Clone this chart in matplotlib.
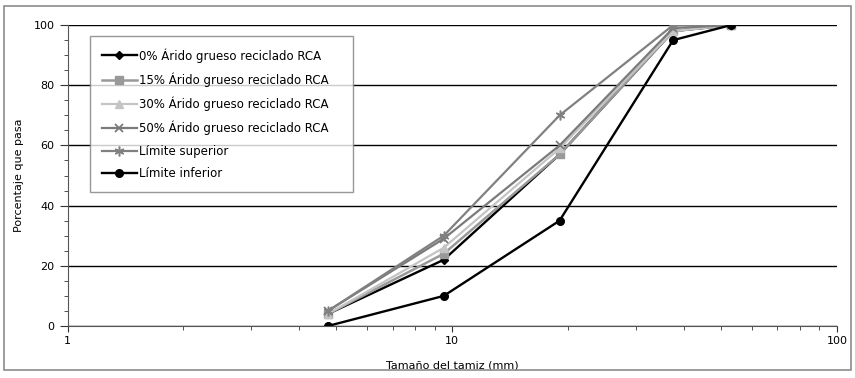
import matplotlib.pyplot as plt
from matplotlib.patches import Rectangle
from matplotlib.ticker import FixedLocator, NullFormatter

# Sieve sizes (mm) and percent passing for each mix and the grading limits
sieves = [4.75, 9.5, 19, 37.5, 53]
rca_0 = [4, 22, 57, 98, 100]
rca_15 = [4, 24, 57, 98, 100]
rca_30 = [4, 26, 59, 98, 100]
rca_50 = [5, 29, 60, 99, 100]
lim_sup = [5, 30, 70, 100, 100]
lim_inf = [0, 10, 35, 95, 100]

labels = [
    "0% Árido grueso reciclado RCA",
    "15% Árido grueso reciclado RCA",
    "30% Árido grueso reciclado RCA",
    "50% Árido grueso reciclado RCA",
    "Límite superior",
    "Límite inferior",
]

plt.rcParams["font.family"] = ["DejaVu Sans"]

fig = plt.figure(figsize=(8.55, 3.78), dpi=100)
ax = fig.add_axes([0.079, 0.1376, 0.9, 0.796])

# outer chart border
fig.patches.append(Rectangle((0.005, 0.02), 0.99, 0.965, transform=fig.transFigure,
                             fill=False, edgecolor="#8c8c8c", lw=1.2))

ax.plot(sieves, rca_0, color="black", lw=1.7, marker="D", ms=4.5, label=labels[0])
ax.plot(sieves, rca_15, color="#999999", lw=1.8, marker="s", ms=6, label=labels[1])
ax.plot(sieves, rca_30, color="#c4c4c4", lw=1.6, marker="^", ms=6, label=labels[2])
ax.plot(sieves, rca_50, color="#7a7a7a", lw=1.6, marker="x", ms=6, mew=1.3,
        label=labels[3])
ax.plot(sieves, lim_sup, color="#808080", lw=1.6, marker=(6, 2, 0), ms=7, mew=1.1,
        label=labels[4])
ax.plot(sieves, lim_inf, color="black", lw=1.7, marker="o", ms=5.5, label=labels[5])

ax.set_xscale("log")
ax.set_xlim(1, 100)
ax.set_ylim(0, 100)
ax.set_yticks([0, 20, 40, 60, 80, 100])
ax.yaxis.set_minor_locator(FixedLocator(range(0, 101, 5)))
ax.set_xticks([1, 10, 100])
ax.set_xticklabels(["1", "10", "100"])
ax.xaxis.set_minor_formatter(NullFormatter())

ax.grid(axis="y", which="major", color="black", lw=1.0)
ax.set_axisbelow(True)
for side in ["top", "right"]:
    ax.spines[side].set_visible(False)
ax.spines["left"].set_color("#555555")
ax.spines["bottom"].set_color("#555555")

ax.tick_params(axis="both", which="major", labelsize=8, length=4, direction="out",
               color="#333333")
ax.tick_params(axis="both", which="minor", length=3, direction="out", color="#333333")
ax.tick_params(axis="y", which="major", length=6)

ax.set_xlabel("Tamaño del tamiz (mm)", fontsize=8, labelpad=10)
ax.set_ylabel("Porcentaje que pasa", fontsize=8, labelpad=7)

leg = ax.legend(loc="upper left", bbox_to_anchor=(0.029, 0.0, 0.342, 0.963),
                mode="expand", borderaxespad=0, fontsize=8.5,
                frameon=True, fancybox=False, edgecolor="#7f7f7f",
                handlelength=3.0, labelspacing=0.82, borderpad=1.0,
                handletextpad=0.2)
leg.get_frame().set_linewidth(1.0)

plt.savefig("out.png", dpi=100)
